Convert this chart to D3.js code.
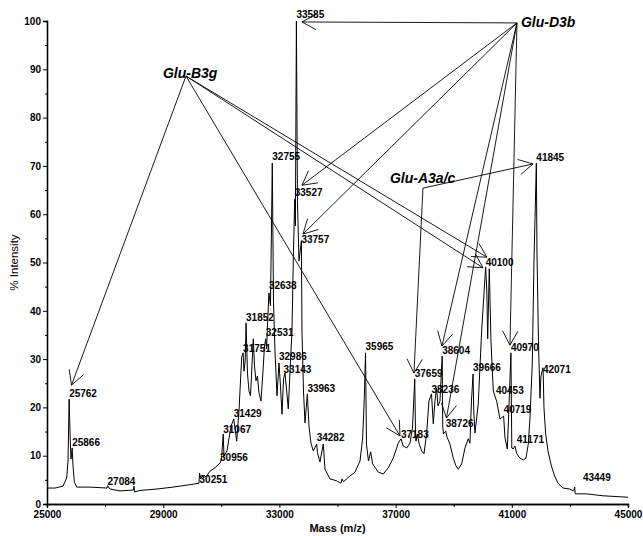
<!DOCTYPE html>
<html>
<head>
<meta charset="utf-8">
<script src="https://cdn.jsdelivr.net/npm/d3@7"></script>
<style>
  html, body { margin: 0; padding: 0; background: #fff; }
  svg { display: block; }
  text { font-family: Arial, "Liberation Sans", sans-serif; fill: #000; }
</style>
</head>
<body>
<svg id="chart" width="643" height="536"></svg>
<script>
// ---------------- DATA ----------------
const spectrum = [
  [25000,3.3],[25275,3.3],[25551,3.7],[25678,5.4],[25723,8.9],[25762,21.7],[25802,13.0],[25826,9.3],
  [25866,11.6],[25895,7.9],[25940,4.6],[26022,3.5],[26480,3.5],[27065,3.3],[27084,3.8],[27168,3.1],
  [27513,2.7],[27977,2.9],[27995,3.7],[28012,2.5],[28201,2.8],[28786,3.1],[29337,3.5],[29922,4.0],
  [30232,4.3],[30251,6.4],[30283,5.2],[30404,6.0],[30473,5.6],[30611,6.8],[30783,7.5],[30956,8.5],
  [31006,9.3],[31067,14.5],[31092,9.9],[31196,11.0],[31333,16.1],[31429,17.6],[31530,13.0],[31609,19.3],
  [31702,30.4],[31751,31.3],[31781,27.5],[31823,29.6],[31852,37.5],[31901,27.1],[31953,23.4],[32005,22.4],
  [32056,28.6],[32101,34.2],[32143,28.6],[32194,25.5],[32246,26.5],[32298,23.0],[32366,21.3],[32435,27.5],
  [32487,32.7],[32531,34.2],[32556,32.1],[32638,43.7],[32693,41.0],[32755,70.6],[32797,42.0],[32848,31.7],
  [32917,22.4],[32986,29.2],[33037,24.4],[33089,18.6],[33143,25.9],[33192,27.1],[33250,23.4],[33306,19.7],
  [33382,29.6],[33433,35.8],[33485,52.4],[33527,63.1],[33550,57.6],[33585,100],[33622,62.7],[33674,50.3],
  [33757,54.5],[33777,35.8],[33829,23.4],[33881,16.8],[33963,22.8],[34018,16.1],[34087,12.6],[34166,11.0],
  [34282,12.4],[34311,10.6],[34397,8.7],[34466,11.0],[34511,12.4],[34569,7.2],[34741,5.2],[34972,4.8],
  [35120,4.3],[35155,5.2],[35200,4.6],[35430,5.8],[35602,6.6],[35775,8.9],[35867,13.7],[35922,21.9],
  [35965,31.3],[35997,12.4],[36066,8.9],[36142,10.8],[36211,8.3],[36404,6.6],[36576,6.2],[36748,7.5],
  [36920,9.5],[37092,12.6],[37183,13.5],[37264,12.0],[37381,11.6],[37495,12.6],[37581,15.7],[37659,25.9],
  [37684,15.1],[37701,13.0],[37746,14.5],[37815,12.4],[37897,11.0],[37977,10.4],[38070,14.7],[38148,21.3],
  [38236,22.8],[38297,16.6],[38355,21.3],[38413,24.0],[38458,20.3],[38527,21.3],[38604,30.6],[38623,16.1],
  [38648,14.5],[38726,15.1],[38768,13.9],[38871,12.4],[38985,9.5],[39078,7.9],[39157,7.2],[39274,8.3],
  [39388,11.6],[39501,13.5],[39560,12.6],[39611,21.3],[39666,26.9],[39690,19.3],[39732,14.7],[39845,20.7],
  [39962,35.8],[40100,49.1],[40140,44.1],[40170,34.2],[40225,48.7],[40283,33.7],[40363,23.4],[40453,21.7],
  [40480,21.3],[40593,17.6],[40719,18.2],[40765,13.7],[40844,11.4],[40885,17.2],[40970,31.3],[41000,11.6],
  [41050,11.4],[41108,12.0],[41171,10.4],[41281,9.5],[41395,9.1],[41488,9.5],[41567,12.4],[41625,17.8],
  [41705,29.0],[41764,50.3],[41845,70.6],[41866,52.4],[41918,33.7],[41970,21.9],[42004,26.5],[42071,28.2],
  [42083,26.9],[42107,19.9],[42166,14.5],[42245,11.0],[42362,7.9],[42475,5.8],[42589,4.3],[42761,3.3],
  [42992,3.1],[43130,2.7],[43165,3.5],[43182,2.1],[43568,2.1],[44139,1.7],[45000,1.4]
];

// peak labels (text = mass) and the intensity level of their baseline
const peakLabels = ["25762","25866","27084","30251","30956","31067","31429","31751","31852","32531",
  "32638","32755","32986","33143","33585","33527","33757","33963","34282","35965","37183","37659",
  "38236","38604","38726","39666","40100","40453","40719","40970","41171","41845","42071","43449"];
const peakLabelLevel = [22.2,12.0,3.9,4.3,8.9,14.7,18.0,31.5,37.9,34.8,
  44.5,71.2,29.8,27.1,100.6,63.8,54.0,23.2,13.0,31.9,13.7,26.3,
  23.0,31.1,15.9,27.5,49.3,22.8,18.8,31.7,12.6,71.0,27.1,4.8];

// protein group annotations
const groupNames = ["Glu-B3g", "Glu-D3b", "Glu-A3a/c"];
const groupTextMass = [28992, 41315, 36806];
const groupTextLevel = [88.2, 98.8, 66.4];
const groupVertexMass = [29784, 41177, 37942];
const groupVertexLevel = [88.6, 99.6, 65.4];

// arrows: group index, tip mass, tip intensity
const arrowGroup = [0, 0, 0, 0, 1, 1, 1, 1, 1, 1, 2, 2];
const arrowTipMass = [25843, 37150, 40145, 40008, 33777, 33777, 33812, 38596, 38751, 40937, 37632, 41728];
const arrowTipLevel = [24.6, 14.1, 51.1, 48.9, 99.8, 66.0, 55.9, 32.7, 17.8, 32.9, 27.1, 70.4];

const xTickValues = [25000, 29000, 33000, 37000, 41000, 45000];
const xMinorTicks = [27000, 31000, 35000, 39000, 43000];
const yTickValues = [0, 10, 20, 30, 40, 50, 60, 70, 80, 90, 100];
const yMinorTicks = [5, 15, 25, 35, 45, 55, 65, 75, 85, 95];
const xTitle = "Mass (m/z)";
const yTitle = "% Intensity";

// ---------------- CHART ----------------
const svg = d3.select("#chart");
const x = d3.scaleLinear().domain([25000, 45000]).range([47, 628]);
const y = d3.scaleLinear().domain([0, 100]).range([504, 21]);

// axes
svg.append("g").attr("transform", `translate(0,${y(0)})`)
  .call(d3.axisBottom(x).tickValues(xTickValues).tickSize(4).tickPadding(3).tickFormat(d3.format("d")));
svg.append("g").attr("transform", `translate(0,${y(0)})`)
  .call(d3.axisBottom(x).tickValues(xMinorTicks).tickSize(3).tickFormat(""));
svg.append("g").attr("transform", `translate(${x(25000)},0)`)
  .call(d3.axisLeft(y).tickValues(yTickValues).tickSize(4).tickPadding(2).tickFormat(d3.format("d")));
svg.append("g").attr("transform", `translate(${x(25000)},0)`)
  .call(d3.axisLeft(y).tickValues(yMinorTicks).tickSize(2).tickFormat(""));

svg.selectAll(".domain").attr("stroke", "#000").attr("stroke-width", 1.3);
svg.selectAll(".tick line").attr("stroke", "#000").attr("stroke-width", 1);
svg.selectAll(".tick text").attr("font-family", "Arial, 'Liberation Sans', sans-serif")
  .attr("font-size", 10).attr("font-weight", "bold").attr("fill", "#000");

// titles
svg.append("text").attr("x", (x(25000) + x(45000)) / 2).attr("y", 532)
  .attr("text-anchor", "middle").attr("font-size", 11).attr("font-weight", "bold").text(xTitle);
svg.append("text").attr("transform", `translate(18,${(y(0) + y(100)) / 2}) rotate(-90)`)
  .attr("text-anchor", "middle").attr("font-size", 11.5).text(yTitle);

// spectrum line
const line = d3.line().x(d => x(d[0])).y(d => y(d[1]));
svg.append("path").datum(spectrum).attr("d", line)
  .attr("fill", "none").attr("stroke", "#000").attr("stroke-width", 1).attr("stroke-linejoin", "round");

// arrows
function arrow(g, x1, y1, x2, y2) {
  g.append("line").attr("x1", x1).attr("y1", y1).attr("x2", x2).attr("y2", y2);
  const ang = Math.atan2(y1 - y2, x1 - x2);
  const len = 16, spread = 0.5;
  [ang - spread, ang + spread].forEach(a => {
    g.append("line").attr("x1", x2).attr("y1", y2)
      .attr("x2", x2 + len * Math.cos(a)).attr("y2", y2 + len * Math.sin(a));
  });
}
const ag = svg.append("g").attr("stroke", "#000").attr("stroke-width", 0.9);
arrowGroup.forEach((gi, i) => {
  arrow(ag, x(groupVertexMass[gi]), y(groupVertexLevel[gi]), x(arrowTipMass[i]), y(arrowTipLevel[i]));
});

// peak labels
svg.append("g").selectAll("text").data(peakLabels).join("text")
  .attr("x", d => x(+d))
  .attr("y", (d, i) => y(peakLabelLevel[i]))
  .attr("font-size", 10).attr("font-weight", "bold")
  .text(d => d);

// group labels
svg.append("g").selectAll("text").data(groupNames).join("text")
  .attr("x", (d, i) => x(groupTextMass[i]))
  .attr("y", (d, i) => y(groupTextLevel[i]))
  .attr("font-size", 14).attr("font-weight", "bold").attr("font-style", "italic")
  .text(d => d);
</script>
</body>
</html>
